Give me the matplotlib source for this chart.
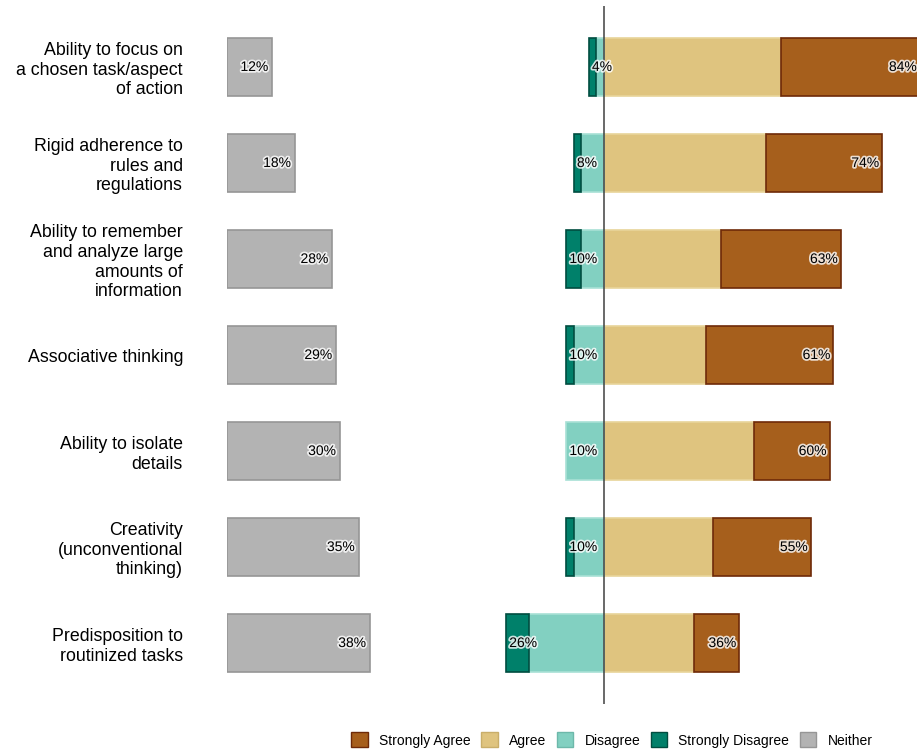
import matplotlib.pyplot as plt
import matplotlib.patheffects as pe
from matplotlib.patches import Patch

plt.rcParams["font.family"] = ["Liberation Sans", "DejaVu Sans"]

categories = [
    "Ability to focus on\na chosen task/aspect\nof action",
    "Rigid adherence to\nrules and\nregulations",
    "Ability to remember\nand analyze large\namounts of\ninformation",
    "Associative thinking",
    "Ability to isolate\ndetails",
    "Creativity\n(unconventional\nthinking)",
    "Predisposition to\nroutinized tasks",
]

strongly_agree = [37, 31, 32, 34, 20, 26, 12]
agree = [47, 43, 31, 27, 40, 29, 24]
disagree = [2, 6, 6, 8, 10, 8, 20]
strongly_disagree = [2, 2, 4, 2, 0, 2, 6]
neither = [12, 18, 28, 29, 30, 35, 38]

agree_labels = ["84%", "74%", "63%", "61%", "60%", "55%", "36%"]
disagree_labels = ["4%", "8%", "10%", "10%", "10%", "10%", "26%"]
neither_labels = ["12%", "18%", "28%", "29%", "30%", "35%", "38%"]

c_sa, e_sa = "#A65F1C", "#6E2A08"
c_a, e_a = "#DFC47F", "#E8D49A"
c_d, e_d = "#82D0C1", "#A8E0D5"
c_sd, e_sd = "#00806A", "#004D40"
c_n, e_n = "#B3B3B3", "#969696"

glow = [pe.withStroke(linewidth=2.5, foreground="white", alpha=0.8)]

W, H = 917, 751
fig = plt.figure(figsize=(W / 100, H / 100), dpi=100)

y0 = (H - 704) / H
hgt = (704 - 6) / H
scale = 3.76  # px per percent

ax_l = fig.add_axes([227 / W, y0, (480 - 227) / W, hgt])
ax_r = fig.add_axes([480 / W, y0, (W - 480) / W, hgt])

ypos = list(range(len(categories)))
bh = 0.6

# left panel: neither
ax_l.barh(ypos, neither, height=bh, color=c_n, edgecolor=e_n, linewidth=1.2)
for y, v, lab in zip(ypos, neither, neither_labels):
    ax_l.text(v - 1.0, y, lab, ha="right", va="center", fontsize=10,
              path_effects=glow)
ax_l.set_xlim(0, (480 - 227) / scale)
ax_l.set_ylim(len(categories) - 1 + 0.635, -0.635)
ax_l.set_yticks(ypos)
ax_l.set_yticklabels(categories, fontsize=12.8, ha="right", multialignment="right")
ax_l.tick_params(axis="y", length=0, pad=44 * 0.72)
ax_l.set_xticks([])
for s in ax_l.spines.values():
    s.set_visible(False)

# right panel: diverging agree / disagree
neg_d = [-v for v in disagree]
neg_sd = [-(d + s) for d, s in zip(disagree, strongly_disagree)]
sd_lw = [1.2 if v > 0 else 0 for v in strongly_disagree]
ax_r.barh(ypos, agree, height=bh, color=c_a, edgecolor=e_a, linewidth=1.2)
ax_r.barh(ypos, strongly_agree, left=agree, height=bh, color=c_sa,
          edgecolor=e_sa, linewidth=1.2)
ax_r.barh(ypos, neg_d, height=bh, color=c_d, edgecolor=e_d, linewidth=1.2)
ax_r.barh(ypos, strongly_disagree, left=neg_sd, height=bh, color=c_sd,
          edgecolor=e_sd, linewidth=sd_lw)

for y, a, sa, lab in zip(ypos, agree, strongly_agree, agree_labels):
    ax_r.text(a + sa - 0.8, y, lab, ha="right", va="center", fontsize=10,
              path_effects=glow)
for y, left, lab in zip(ypos, neg_sd, disagree_labels):
    ax_r.text(left + 0.8, y, lab, ha="left", va="center", fontsize=10,
              path_effects=glow)

ax_r.axvline(0, color="#404040", linewidth=1.1)
ax_r.set_xlim(-(604 - 480) / scale, (W - 604) / scale)
ax_r.set_ylim(len(categories) - 1 + 0.635, -0.635)
ax_r.set_xticks([])
ax_r.set_yticks([])
for s in ax_r.spines.values():
    s.set_visible(False)

handles = [
    Patch(facecolor=c_sa, edgecolor=e_sa, label="Strongly Agree"),
    Patch(facecolor=c_a, edgecolor="#C9AE6A", label="Agree"),
    Patch(facecolor=c_d, edgecolor="#6DB8AA", label="Disagree"),
    Patch(facecolor=c_sd, edgecolor=e_sd, label="Strongly Disagree"),
    Patch(facecolor=c_n, edgecolor=e_n, label="Neither"),
]
fig.legend(handles=handles, loc="lower right", bbox_to_anchor=(0.965, -0.012),
           ncol=5, frameon=False, fontsize=10, handlelength=1.2,
           handleheight=1.25, handletextpad=0.8, columnspacing=0.75)

fig.savefig("out.png", dpi=100)
